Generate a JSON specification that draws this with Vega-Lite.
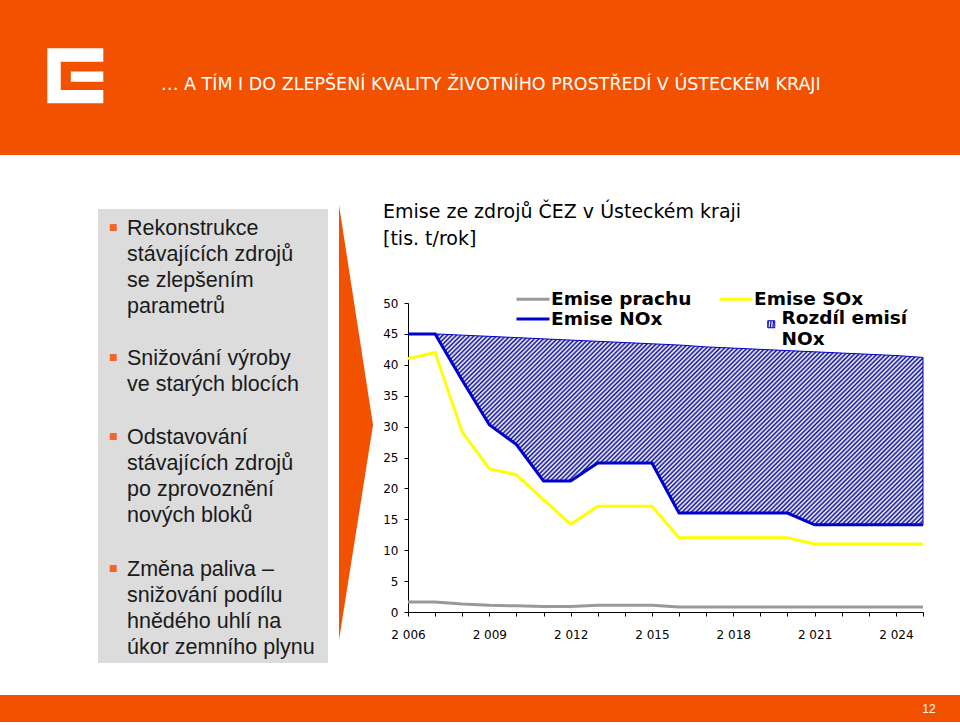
{
  "$schema": "https://vega.github.io/schema/vega-lite/v6.json",
  "background": "white",
  "padding": 0,
  "spacing": 0,
  "bounds": "full",
  "config": {"view": {"stroke": null}, "font": "DejaVu Sans"},
  "vconcat": [
    {
      "width": 960,
      "height": 155,
      "view": {"fill": "#f25100", "stroke": null},
      "data": {"values": [{"title": "… A TÍM I DO ZLEPŠENÍ KVALITY ŽIVOTNÍHO PROSTŘEDÍ V ÚSTECKÉM KRAJI"}]},
      "layer": [
        {"mark": {"type": "point", "shape": "M-1,-0.98H1V-0.5H-0.52V0.51H1V0.98H-1Z M-0.16,-0.15H1V0.21H-0.16Z", "x": 75.3, "y": 75.8, "size": 3136, "filled": true, "color": "#ffffff", "opacity": 1, "strokeWidth": 0}, "encoding": {}},
        {"mark": {"type": "text", "x": 161, "y": 85, "align": "left", "baseline": "middle", "font": "DejaVu Sans", "fontSize": 17.5, "color": "#ffffff"}, "encoding": {"text": {"field": "title"}}}
      ]
    },
    {
      "hconcat": [
        {
          "width": 408,
          "height": 540,
          "view": {"fill": "#ffffff", "stroke": null},
          "data": {"values": [
            {"para": 1, "lines": ["Rekonstrukce", "stávajících zdrojů", "se zlepšením", "parametrů"]},
            {"para": 2, "lines": ["Snižování výroby", "ve starých blocích"]},
            {"para": 3, "lines": ["Odstavování", "stávajících zdrojů", "po zprovoznění", "nových bloků"]},
            {"para": 4, "lines": ["Změna paliva –", "snižování podílu", "hnědého uhlí na", "úkor zemního plynu"]}
          ]},
          "layer": [
            {"transform": [{"filter": "datum.para == 1"}], "mark": {"type": "rect", "x": 98, "y": 54, "x2": 328, "y2": 508, "color": "#dcdcdc"}, "encoding": {}},
            {"transform": [{"filter": "datum.para == 1"}], "mark": {"type": "text", "x": 127, "y": 80, "align": "left", "baseline": "alphabetic", "font": "Liberation Sans", "fontSize": 21.5, "lineHeight": 26, "color": "#1a1a1a"}, "encoding": {"text": {"field": "lines"}}},
            {"transform": [{"filter": "datum.para == 2"}], "mark": {"type": "text", "x": 127, "y": 210, "align": "left", "baseline": "alphabetic", "font": "Liberation Sans", "fontSize": 21.5, "lineHeight": 26, "color": "#1a1a1a"}, "encoding": {"text": {"field": "lines"}}},
            {"transform": [{"filter": "datum.para == 3"}], "mark": {"type": "text", "x": 127, "y": 289, "align": "left", "baseline": "alphabetic", "font": "Liberation Sans", "fontSize": 21.5, "lineHeight": 26, "color": "#1a1a1a"}, "encoding": {"text": {"field": "lines"}}},
            {"transform": [{"filter": "datum.para == 4"}], "mark": {"type": "text", "x": 127, "y": 421, "align": "left", "baseline": "alphabetic", "font": "Liberation Sans", "fontSize": 21.5, "lineHeight": 26, "color": "#1a1a1a"}, "encoding": {"text": {"field": "lines"}}},
            {"transform": [{"filter": "datum.para == 1"}], "mark": {"type": "text", "text": "■", "x": 109, "y": 75, "align": "left", "baseline": "alphabetic", "font": "DejaVu Sans", "fontSize": 9, "color": "#f26522"}, "encoding": {}},
            {"transform": [{"filter": "datum.para == 2"}], "mark": {"type": "text", "text": "■", "x": 109, "y": 205, "align": "left", "baseline": "alphabetic", "font": "DejaVu Sans", "fontSize": 9, "color": "#f26522"}, "encoding": {}},
            {"transform": [{"filter": "datum.para == 3"}], "mark": {"type": "text", "text": "■", "x": 109, "y": 284, "align": "left", "baseline": "alphabetic", "font": "DejaVu Sans", "fontSize": 9, "color": "#f26522"}, "encoding": {}},
            {"transform": [{"filter": "datum.para == 4"}], "mark": {"type": "text", "text": "■", "x": 109, "y": 416, "align": "left", "baseline": "alphabetic", "font": "DejaVu Sans", "fontSize": 9, "color": "#f26522"}, "encoding": {}},
            {"transform": [{"filter": "datum.para == 1"}], "mark": {"type": "point", "shape": "M-0.0782,-1L0.0782,0.0115L-0.0782,1Z", "x": 356, "y": 267.5, "size": 189225, "filled": true, "color": "#f25100", "opacity": 1, "strokeWidth": 0}, "encoding": {}}
          ]
        },
        {
          "vconcat": [
            {
              "width": 515,
              "height": 148,
              "data": {"values": [{"t": ["Emise ze zdrojů ČEZ v Ústeckém kraji", "[tis. t/rok]"]}]},
              "mark": {"type": "text", "x": -25, "y": 63, "align": "left", "baseline": "alphabetic", "font": "DejaVu Sans", "fontSize": 19, "lineHeight": 27, "color": "#000000"},
              "encoding": {"text": {"field": "t"}}
            },
            {
              "width": 515,
              "height": 309,
              "encoding": {
                "x": {"field": "year", "type": "quantitative", "scale": {"domain": [2006, 2025], "nice": false, "zero": false},
                  "axis": {"values": [2006,2007,2008,2009,2010,2011,2012,2013,2014,2015,2016,2017,2018,2019,2020,2021,2022,2023,2024,2025],
                    "labelExpr": "(datum.value - 2006) % 3 == 0 ? replace(format(datum.value, ','), ',', ' ') : ''",
                    "title": null, "grid": false, "tickSize": 4, "labelPadding": 13, "labelFont": "DejaVu Sans", "labelFontSize": 12, "labelColor": "#000000", "domainColor": "#000000", "tickColor": "#000000", "labelFlush": false, "labelOverlap": false, "labelBound": false}},
                "y": {"field": "value", "type": "quantitative", "scale": {"domain": [0, 50], "nice": false},
                  "axis": {"values": [0,5,10,15,20,25,30,35,40,45,50], "title": null, "grid": false, "tickSize": 4, "labelPadding": 6, "labelFont": "DejaVu Sans", "labelFontSize": 12, "labelColor": "#000000", "domainColor": "#000000", "tickColor": "#000000"}}
              },
              "layer": [
                {
                  "data": {"values": [
                    {"year": 2007, "value": 45, "value2": 45},
                    {"year": 2008, "value": 44.8, "value2": 37.5},
                    {"year": 2009, "value": 44.6, "value2": 30.3},
                    {"year": 2010, "value": 44.4, "value2": 27.1},
                    {"year": 2011, "value": 44.2, "value2": 21.2},
                    {"year": 2012, "value": 44.0, "value2": 21.2},
                    {"year": 2013, "value": 43.8, "value2": 24.1},
                    {"year": 2014, "value": 43.6, "value2": 24.1},
                    {"year": 2015, "value": 43.4, "value2": 24.1},
                    {"year": 2016, "value": 43.2, "value2": 16},
                    {"year": 2017, "value": 42.9, "value2": 16},
                    {"year": 2018, "value": 42.7, "value2": 16},
                    {"year": 2019, "value": 42.5, "value2": 16},
                    {"year": 2020, "value": 42.3, "value2": 16},
                    {"year": 2021, "value": 42.1, "value2": 14.1},
                    {"year": 2022, "value": 41.9, "value2": 14.1},
                    {"year": 2023, "value": 41.7, "value2": 14.1},
                    {"year": 2024, "value": 41.5, "value2": 14.1},
                    {"year": 2025, "value": 41.2, "value2": 14.1}
                  ]},
                  "mark": {"type": "area", "strokeWidth": 1, "opacity": 1,
                    "fill": {"gradient": "linear", "x1": 0, "y1": 0, "x2": 1.207, "y2": 0.474, "stops": [
{"offset":0.00,"color":"#0c0c94"},{"offset":0.0033,"color":"#fff"},{"offset":0.0067,"color":"#0c0c94"},
{"offset":0.01,"color":"#fff"},{"offset":0.0133,"color":"#0c0c94"},{"offset":0.0167,"color":"#fff"},
{"offset":0.02,"color":"#0c0c94"},{"offset":0.0233,"color":"#fff"},{"offset":0.0267,"color":"#0c0c94"},
{"offset":0.03,"color":"#fff"},{"offset":0.0333,"color":"#0c0c94"},{"offset":0.0367,"color":"#fff"},
{"offset":0.04,"color":"#0c0c94"},{"offset":0.0433,"color":"#fff"},{"offset":0.0467,"color":"#0c0c94"},
{"offset":0.05,"color":"#fff"},{"offset":0.0533,"color":"#0c0c94"},{"offset":0.0567,"color":"#fff"},
{"offset":0.06,"color":"#0c0c94"},{"offset":0.0633,"color":"#fff"},{"offset":0.0667,"color":"#0c0c94"},
{"offset":0.07,"color":"#fff"},{"offset":0.0733,"color":"#0c0c94"},{"offset":0.0767,"color":"#fff"},
{"offset":0.08,"color":"#0c0c94"},{"offset":0.0833,"color":"#fff"},{"offset":0.0867,"color":"#0c0c94"},
{"offset":0.09,"color":"#fff"},{"offset":0.0933,"color":"#0c0c94"},{"offset":0.0967,"color":"#fff"},
{"offset":0.10,"color":"#0c0c94"},{"offset":0.1033,"color":"#fff"},{"offset":0.1067,"color":"#0c0c94"},
{"offset":0.11,"color":"#fff"},{"offset":0.1133,"color":"#0c0c94"},{"offset":0.1167,"color":"#fff"},
{"offset":0.12,"color":"#0c0c94"},{"offset":0.1233,"color":"#fff"},{"offset":0.1267,"color":"#0c0c94"},
{"offset":0.13,"color":"#fff"},{"offset":0.1333,"color":"#0c0c94"},{"offset":0.1367,"color":"#fff"},
{"offset":0.14,"color":"#0c0c94"},{"offset":0.1433,"color":"#fff"},{"offset":0.1467,"color":"#0c0c94"},
{"offset":0.15,"color":"#fff"},{"offset":0.1533,"color":"#0c0c94"},{"offset":0.1567,"color":"#fff"},
{"offset":0.16,"color":"#0c0c94"},{"offset":0.1633,"color":"#fff"},{"offset":0.1667,"color":"#0c0c94"},
{"offset":0.17,"color":"#fff"},{"offset":0.1733,"color":"#0c0c94"},{"offset":0.1767,"color":"#fff"},
{"offset":0.18,"color":"#0c0c94"},{"offset":0.1833,"color":"#fff"},{"offset":0.1867,"color":"#0c0c94"},
{"offset":0.19,"color":"#fff"},{"offset":0.1933,"color":"#0c0c94"},{"offset":0.1967,"color":"#fff"},
{"offset":0.20,"color":"#0c0c94"},{"offset":0.2033,"color":"#fff"},{"offset":0.2067,"color":"#0c0c94"},
{"offset":0.21,"color":"#fff"},{"offset":0.2133,"color":"#0c0c94"},{"offset":0.2167,"color":"#fff"},
{"offset":0.22,"color":"#0c0c94"},{"offset":0.2233,"color":"#fff"},{"offset":0.2267,"color":"#0c0c94"},
{"offset":0.23,"color":"#fff"},{"offset":0.2333,"color":"#0c0c94"},{"offset":0.2367,"color":"#fff"},
{"offset":0.24,"color":"#0c0c94"},{"offset":0.2433,"color":"#fff"},{"offset":0.2467,"color":"#0c0c94"},
{"offset":0.25,"color":"#fff"},{"offset":0.2533,"color":"#0c0c94"},{"offset":0.2567,"color":"#fff"},
{"offset":0.26,"color":"#0c0c94"},{"offset":0.2633,"color":"#fff"},{"offset":0.2667,"color":"#0c0c94"},
{"offset":0.27,"color":"#fff"},{"offset":0.2733,"color":"#0c0c94"},{"offset":0.2767,"color":"#fff"},
{"offset":0.28,"color":"#0c0c94"},{"offset":0.2833,"color":"#fff"},{"offset":0.2867,"color":"#0c0c94"},
{"offset":0.29,"color":"#fff"},{"offset":0.2933,"color":"#0c0c94"},{"offset":0.2967,"color":"#fff"},
{"offset":0.30,"color":"#0c0c94"},{"offset":0.3033,"color":"#fff"},{"offset":0.3067,"color":"#0c0c94"},
{"offset":0.31,"color":"#fff"},{"offset":0.3133,"color":"#0c0c94"},{"offset":0.3167,"color":"#fff"},
{"offset":0.32,"color":"#0c0c94"},{"offset":0.3233,"color":"#fff"},{"offset":0.3267,"color":"#0c0c94"},
{"offset":0.33,"color":"#fff"},{"offset":0.3333,"color":"#0c0c94"},{"offset":0.3367,"color":"#fff"},
{"offset":0.34,"color":"#0c0c94"},{"offset":0.3433,"color":"#fff"},{"offset":0.3467,"color":"#0c0c94"},
{"offset":0.35,"color":"#fff"},{"offset":0.3533,"color":"#0c0c94"},{"offset":0.3567,"color":"#fff"},
{"offset":0.36,"color":"#0c0c94"},{"offset":0.3633,"color":"#fff"},{"offset":0.3667,"color":"#0c0c94"},
{"offset":0.37,"color":"#fff"},{"offset":0.3733,"color":"#0c0c94"},{"offset":0.3767,"color":"#fff"},
{"offset":0.38,"color":"#0c0c94"},{"offset":0.3833,"color":"#fff"},{"offset":0.3867,"color":"#0c0c94"},
{"offset":0.39,"color":"#fff"},{"offset":0.3933,"color":"#0c0c94"},{"offset":0.3967,"color":"#fff"},
{"offset":0.40,"color":"#0c0c94"},{"offset":0.4033,"color":"#fff"},{"offset":0.4067,"color":"#0c0c94"},
{"offset":0.41,"color":"#fff"},{"offset":0.4133,"color":"#0c0c94"},{"offset":0.4167,"color":"#fff"},
{"offset":0.42,"color":"#0c0c94"},{"offset":0.4233,"color":"#fff"},{"offset":0.4267,"color":"#0c0c94"},
{"offset":0.43,"color":"#fff"},{"offset":0.4333,"color":"#0c0c94"},{"offset":0.4367,"color":"#fff"},
{"offset":0.44,"color":"#0c0c94"},{"offset":0.4433,"color":"#fff"},{"offset":0.4467,"color":"#0c0c94"},
{"offset":0.45,"color":"#fff"},{"offset":0.4533,"color":"#0c0c94"},{"offset":0.4567,"color":"#fff"},
{"offset":0.46,"color":"#0c0c94"},{"offset":0.4633,"color":"#fff"},{"offset":0.4667,"color":"#0c0c94"},
{"offset":0.47,"color":"#fff"},{"offset":0.4733,"color":"#0c0c94"},{"offset":0.4767,"color":"#fff"},
{"offset":0.48,"color":"#0c0c94"},{"offset":0.4833,"color":"#fff"},{"offset":0.4867,"color":"#0c0c94"},
{"offset":0.49,"color":"#fff"},{"offset":0.4933,"color":"#0c0c94"},{"offset":0.4967,"color":"#fff"},
{"offset":0.50,"color":"#0c0c94"},{"offset":0.5033,"color":"#fff"},{"offset":0.5067,"color":"#0c0c94"},
{"offset":0.51,"color":"#fff"},{"offset":0.5133,"color":"#0c0c94"},{"offset":0.5167,"color":"#fff"},
{"offset":0.52,"color":"#0c0c94"},{"offset":0.5233,"color":"#fff"},{"offset":0.5267,"color":"#0c0c94"},
{"offset":0.53,"color":"#fff"},{"offset":0.5333,"color":"#0c0c94"},{"offset":0.5367,"color":"#fff"},
{"offset":0.54,"color":"#0c0c94"},{"offset":0.5433,"color":"#fff"},{"offset":0.5467,"color":"#0c0c94"},
{"offset":0.55,"color":"#fff"},{"offset":0.5533,"color":"#0c0c94"},{"offset":0.5567,"color":"#fff"},
{"offset":0.56,"color":"#0c0c94"},{"offset":0.5633,"color":"#fff"},{"offset":0.5667,"color":"#0c0c94"},
{"offset":0.57,"color":"#fff"},{"offset":0.5733,"color":"#0c0c94"},{"offset":0.5767,"color":"#fff"},
{"offset":0.58,"color":"#0c0c94"},{"offset":0.5833,"color":"#fff"},{"offset":0.5867,"color":"#0c0c94"},
{"offset":0.59,"color":"#fff"},{"offset":0.5933,"color":"#0c0c94"},{"offset":0.5967,"color":"#fff"},
{"offset":0.60,"color":"#0c0c94"},{"offset":0.6033,"color":"#fff"},{"offset":0.6067,"color":"#0c0c94"},
{"offset":0.61,"color":"#fff"},{"offset":0.6133,"color":"#0c0c94"},{"offset":0.6167,"color":"#fff"},
{"offset":0.62,"color":"#0c0c94"},{"offset":0.6233,"color":"#fff"},{"offset":0.6267,"color":"#0c0c94"},
{"offset":0.63,"color":"#fff"},{"offset":0.6333,"color":"#0c0c94"},{"offset":0.6367,"color":"#fff"},
{"offset":0.64,"color":"#0c0c94"},{"offset":0.6433,"color":"#fff"},{"offset":0.6467,"color":"#0c0c94"},
{"offset":0.65,"color":"#fff"},{"offset":0.6533,"color":"#0c0c94"},{"offset":0.6567,"color":"#fff"},
{"offset":0.66,"color":"#0c0c94"},{"offset":0.6633,"color":"#fff"},{"offset":0.6667,"color":"#0c0c94"},
{"offset":0.67,"color":"#fff"},{"offset":0.6733,"color":"#0c0c94"},{"offset":0.6767,"color":"#fff"},
{"offset":0.68,"color":"#0c0c94"},{"offset":0.6833,"color":"#fff"},{"offset":0.6867,"color":"#0c0c94"},
{"offset":0.69,"color":"#fff"},{"offset":0.6933,"color":"#0c0c94"},{"offset":0.6967,"color":"#fff"},
{"offset":0.70,"color":"#0c0c94"},{"offset":0.7033,"color":"#fff"},{"offset":0.7067,"color":"#0c0c94"},
{"offset":0.71,"color":"#fff"},{"offset":0.7133,"color":"#0c0c94"},{"offset":0.7167,"color":"#fff"},
{"offset":0.72,"color":"#0c0c94"},{"offset":0.7233,"color":"#fff"},{"offset":0.7267,"color":"#0c0c94"},
{"offset":0.73,"color":"#fff"},{"offset":0.7333,"color":"#0c0c94"},{"offset":0.7367,"color":"#fff"},
{"offset":0.74,"color":"#0c0c94"},{"offset":0.7433,"color":"#fff"},{"offset":0.7467,"color":"#0c0c94"},
{"offset":0.75,"color":"#fff"},{"offset":0.7533,"color":"#0c0c94"},{"offset":0.7567,"color":"#fff"},
{"offset":0.76,"color":"#0c0c94"},{"offset":0.7633,"color":"#fff"},{"offset":0.7667,"color":"#0c0c94"},
{"offset":0.77,"color":"#fff"},{"offset":0.7733,"color":"#0c0c94"},{"offset":0.7767,"color":"#fff"},
{"offset":0.78,"color":"#0c0c94"},{"offset":0.7833,"color":"#fff"},{"offset":0.7867,"color":"#0c0c94"},
{"offset":0.79,"color":"#fff"},{"offset":0.7933,"color":"#0c0c94"},{"offset":0.7967,"color":"#fff"},
{"offset":0.80,"color":"#0c0c94"},{"offset":0.8033,"color":"#fff"},{"offset":0.8067,"color":"#0c0c94"},
{"offset":0.81,"color":"#fff"},{"offset":0.8133,"color":"#0c0c94"},{"offset":0.8167,"color":"#fff"},
{"offset":0.82,"color":"#0c0c94"},{"offset":0.8233,"color":"#fff"},{"offset":0.8267,"color":"#0c0c94"},
{"offset":0.83,"color":"#fff"},{"offset":0.8333,"color":"#0c0c94"},{"offset":0.8367,"color":"#fff"},
{"offset":0.84,"color":"#0c0c94"},{"offset":0.8433,"color":"#fff"},{"offset":0.8467,"color":"#0c0c94"},
{"offset":0.85,"color":"#fff"},{"offset":0.8533,"color":"#0c0c94"},{"offset":0.8567,"color":"#fff"},
{"offset":0.86,"color":"#0c0c94"},{"offset":0.8633,"color":"#fff"},{"offset":0.8667,"color":"#0c0c94"},
{"offset":0.87,"color":"#fff"},{"offset":0.8733,"color":"#0c0c94"},{"offset":0.8767,"color":"#fff"},
{"offset":0.88,"color":"#0c0c94"},{"offset":0.8833,"color":"#fff"},{"offset":0.8867,"color":"#0c0c94"},
{"offset":0.89,"color":"#fff"},{"offset":0.8933,"color":"#0c0c94"},{"offset":0.8967,"color":"#fff"},
{"offset":0.90,"color":"#0c0c94"},{"offset":0.9033,"color":"#fff"},{"offset":0.9067,"color":"#0c0c94"},
{"offset":0.91,"color":"#fff"},{"offset":0.9133,"color":"#0c0c94"},{"offset":0.9167,"color":"#fff"},
{"offset":0.92,"color":"#0c0c94"},{"offset":0.9233,"color":"#fff"},{"offset":0.9267,"color":"#0c0c94"},
{"offset":0.93,"color":"#fff"},{"offset":0.9333,"color":"#0c0c94"},{"offset":0.9367,"color":"#fff"},
{"offset":0.94,"color":"#0c0c94"},{"offset":0.9433,"color":"#fff"},{"offset":0.9467,"color":"#0c0c94"},
{"offset":0.95,"color":"#fff"},{"offset":0.9533,"color":"#0c0c94"},{"offset":0.9567,"color":"#fff"},
{"offset":0.96,"color":"#0c0c94"},{"offset":0.9633,"color":"#fff"},{"offset":0.9667,"color":"#0c0c94"},
{"offset":0.97,"color":"#fff"},{"offset":0.9733,"color":"#0c0c94"},{"offset":0.9767,"color":"#fff"},
{"offset":0.98,"color":"#0c0c94"},{"offset":0.9833,"color":"#fff"},{"offset":0.9867,"color":"#0c0c94"},
{"offset":0.99,"color":"#fff"},{"offset":0.9933,"color":"#0c0c94"},{"offset":0.9967,"color":"#fff"},
{"offset":1,"color":"#0c0c94"}
                    ]}
                  },
                  "encoding": {
                    "y2": {"field": "value2"},
                    "stroke": {"datum": "Rozdíl emisí NOx", "type": "nominal", "scale": {"domain": ["Rozdíl emisí NOx"], "range": ["#0000cc"]},
                      "legend": {"orient": "none", "legendX": 354, "legendY": 12, "padding": 0, "title": null, "symbolType": "square", "symbolSize": 49, "symbolStrokeWidth": 1, "labelFont": "DejaVu Sans", "labelFontWeight": "bold", "labelFontSize": 18.5, "labelColor": "#000000", "labelOffset": 1, "labelLimit": 400, "labelBaseline": "alphabetic", "labelExpr": "['Rozdíl emisí', 'NOx']",
                        "encode": {"symbols": {"update": {"fill": {"value": "#4a4ac8"}, "opacity": {"value": 1}}}}}}
                  }
                },
                {
                  "data": {"values": [
                    {"year": 2006, "series": "Emise prachu", "value": 1.6},
                    {"year": 2007, "series": "Emise prachu", "value": 1.6},
                    {"year": 2008, "series": "Emise prachu", "value": 1.3},
                    {"year": 2009, "series": "Emise prachu", "value": 1.1},
                    {"year": 2010, "series": "Emise prachu", "value": 1.0},
                    {"year": 2011, "series": "Emise prachu", "value": 0.9},
                    {"year": 2012, "series": "Emise prachu", "value": 0.9},
                    {"year": 2013, "series": "Emise prachu", "value": 1.1},
                    {"year": 2014, "series": "Emise prachu", "value": 1.1},
                    {"year": 2015, "series": "Emise prachu", "value": 1.1},
                    {"year": 2016, "series": "Emise prachu", "value": 0.8},
                    {"year": 2017, "series": "Emise prachu", "value": 0.8},
                    {"year": 2018, "series": "Emise prachu", "value": 0.8},
                    {"year": 2019, "series": "Emise prachu", "value": 0.8},
                    {"year": 2020, "series": "Emise prachu", "value": 0.8},
                    {"year": 2021, "series": "Emise prachu", "value": 0.8},
                    {"year": 2022, "series": "Emise prachu", "value": 0.8},
                    {"year": 2023, "series": "Emise prachu", "value": 0.8},
                    {"year": 2024, "series": "Emise prachu", "value": 0.8},
                    {"year": 2025, "series": "Emise prachu", "value": 0.8},
                    {"year": 2006, "series": "Emise SOx", "value": 41},
                    {"year": 2007, "series": "Emise SOx", "value": 42},
                    {"year": 2008, "series": "Emise SOx", "value": 29.1},
                    {"year": 2009, "series": "Emise SOx", "value": 23.2},
                    {"year": 2010, "series": "Emise SOx", "value": 22.2},
                    {"year": 2011, "series": "Emise SOx", "value": 18.2},
                    {"year": 2012, "series": "Emise SOx", "value": 14.2},
                    {"year": 2013, "series": "Emise SOx", "value": 17.1},
                    {"year": 2014, "series": "Emise SOx", "value": 17.1},
                    {"year": 2015, "series": "Emise SOx", "value": 17.1},
                    {"year": 2016, "series": "Emise SOx", "value": 12},
                    {"year": 2017, "series": "Emise SOx", "value": 12},
                    {"year": 2018, "series": "Emise SOx", "value": 12},
                    {"year": 2019, "series": "Emise SOx", "value": 12},
                    {"year": 2020, "series": "Emise SOx", "value": 12},
                    {"year": 2021, "series": "Emise SOx", "value": 11},
                    {"year": 2022, "series": "Emise SOx", "value": 11},
                    {"year": 2023, "series": "Emise SOx", "value": 11},
                    {"year": 2024, "series": "Emise SOx", "value": 11},
                    {"year": 2025, "series": "Emise SOx", "value": 11}
                  ]},
                  "mark": {"type": "line", "strokeWidth": 3},
                  "encoding": {
                    "stroke": {"field": "series", "type": "nominal", "scale": {"domain": ["Emise prachu", "Emise SOx"], "range": ["#999999", "#ffff00"]},
                      "legend": {"orient": "none", "legendX": 107, "legendY": -22, "padding": 0, "title": null, "direction": "horizontal", "columns": 2, "columnPadding": 21, "symbolType": "stroke", "symbolSize": 1089, "symbolStrokeWidth": 3, "labelFont": "DejaVu Sans", "labelFontWeight": "bold", "labelFontSize": 18.5, "labelColor": "#000000", "labelOffset": 0, "labelLimit": 400}}
                  }
                },
                {
                  "data": {"values": [
                    {"year": 2006, "series": "Emise NOx", "value": 45},
                    {"year": 2007, "series": "Emise NOx", "value": 45},
                    {"year": 2008, "series": "Emise NOx", "value": 37.5},
                    {"year": 2009, "series": "Emise NOx", "value": 30.3},
                    {"year": 2010, "series": "Emise NOx", "value": 27.1},
                    {"year": 2011, "series": "Emise NOx", "value": 21.2},
                    {"year": 2012, "series": "Emise NOx", "value": 21.2},
                    {"year": 2013, "series": "Emise NOx", "value": 24.1},
                    {"year": 2014, "series": "Emise NOx", "value": 24.1},
                    {"year": 2015, "series": "Emise NOx", "value": 24.1},
                    {"year": 2016, "series": "Emise NOx", "value": 16},
                    {"year": 2017, "series": "Emise NOx", "value": 16},
                    {"year": 2018, "series": "Emise NOx", "value": 16},
                    {"year": 2019, "series": "Emise NOx", "value": 16},
                    {"year": 2020, "series": "Emise NOx", "value": 16},
                    {"year": 2021, "series": "Emise NOx", "value": 14.1},
                    {"year": 2022, "series": "Emise NOx", "value": 14.1},
                    {"year": 2023, "series": "Emise NOx", "value": 14.1},
                    {"year": 2024, "series": "Emise NOx", "value": 14.1},
                    {"year": 2025, "series": "Emise NOx", "value": 14.1}
                  ]},
                  "mark": {"type": "line", "strokeWidth": 3},
                  "encoding": {
                    "stroke": {"field": "series", "type": "nominal", "scale": {"domain": ["Emise NOx"], "range": ["#0000cc"]},
                      "legend": {"orient": "none", "legendX": 107, "legendY": -2, "padding": 0, "title": null, "symbolType": "stroke", "symbolSize": 1089, "symbolStrokeWidth": 3, "labelFont": "DejaVu Sans", "labelFontWeight": "bold", "labelFontSize": 18.5, "labelColor": "#000000", "labelOffset": 0, "labelLimit": 400}}
                  }
                }
              ],
              "resolve": {"scale": {"stroke": "independent"}, "legend": {"stroke": "independent"}}
            }
          ],
          "spacing": 0,
          "bounds": "flush"
        }
      ],
      "spacing": 0,
      "bounds": "flush"
    },
    {
      "width": 960,
      "height": 27,
      "view": {"fill": "#f25100", "stroke": null},
      "data": {"values": [{"page": "12"}]},
      "mark": {"type": "text", "x": 929, "y": 14, "align": "center", "baseline": "middle", "font": "Liberation Sans", "fontSize": 12, "color": "#ffffff"},
      "encoding": {"text": {"field": "page"}}
    }
  ]
}
